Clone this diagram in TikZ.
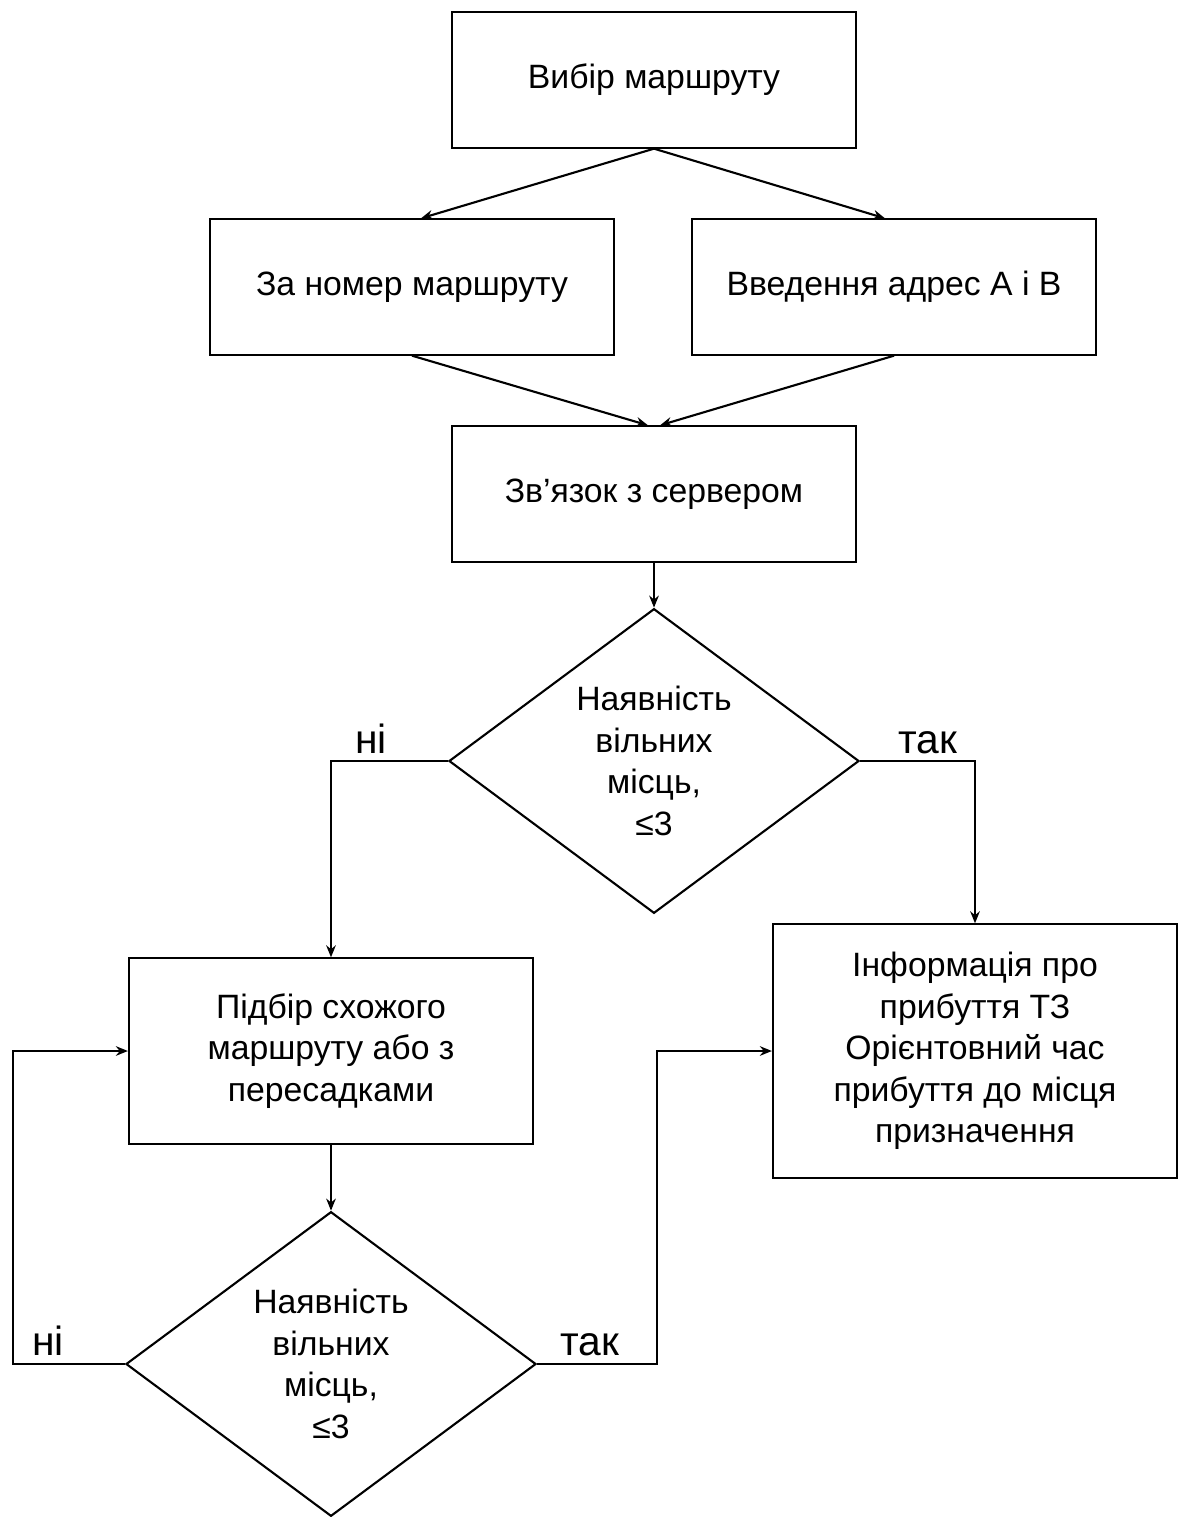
\documentclass[tikz,border=0pt]{standalone}
\usepackage{fontspec}
\setmainfont{Liberation Sans}
\usetikzlibrary{positioning,calc,arrows,arrows.meta,shapes.geometric}
\tikzset{font=\fontsize{24}{29.5}\selectfont}

\begin{document}
\begin{tikzpicture}[x=0.025cm, y=-0.025cm, line width=1.5pt]
	\useasboundingbox (0, 0) rectangle (1180, 1517);
	\begin{scope}
		\tikzstyle{every node}=[align=center, inner sep=0pt]
		\tikzstyle{block}=[draw, minimum width=10.1cm, minimum height=3.38cm]
		\tikzstyle{check}=[draw, diamond, minimum width=10.25cm, minimum height=7.6cm]
		\tikzstyle{answer}=[font=\fontsize{29}{30}\selectfont, anchor=base]
		\tikzstyle{every path}=[>={Stealth[length=0.3cm, width=0.24cm]}]

		\node[block] (choice) at (654, 80) {Вибір маршруту};
		\node[block] (bynum) at (412, 287) {За номер маршруту};
		\node[block] (addr) at (894, 287) {Введення адрес А і В};
		\node[block] (server) at (654, 494) {Зв’язок з сервером};

		\node[check] (free) at (654, 761) {Наявність \\ вільних \\ місць, \\ ≤3};

		\node[block, minimum height=4.63cm] (pick) at (331, 1051) {Підбір схожого \\ маршруту або з \\ пересадками};
		\node[block, minimum height=6.33cm] (info) at (975, 1051) {Інформація про \\ прибуття ТЗ \\ Орієнтовний час \\ прибуття до місця \\ призначення};

		\node[check] (again) at (331, 1364) {Наявність \\ вільних \\ місць, \\ ≤3};

		\node[answer] (no1) at (371, 753) {ні};
		\node[answer] (yes1) at (928, 753) {так};
		\node[answer] (no2) at (48, 1355) {ні};
		\node[answer] (yes2) at (590, 1355) {так};

		\draw[->](choice.south) -- ($(bynum.north)+(9, 0)$);
		\draw[->](choice.south) -- ($(addr.north)+(-9, 0)$);
		\draw[->](bynum.south) -- ($(server.north)+(-6, 0)$);
		\draw[->](addr.south) -- ($(server.north)+(6, 0)$);
		\draw[->](server.south) -- (free.north);

		\draw[->](free.west) -| (pick.north);
		\draw[->](free.east) -| (info.north);
		\draw[->](pick.south) -- (again.north);

		\draw[->](again.west) -- +(-112, 0) |- (pick.west);
		\draw[->](again.east) -- +(120, 0) |- (info.west);
	\end{scope}
\end{tikzpicture}
\end{document}
